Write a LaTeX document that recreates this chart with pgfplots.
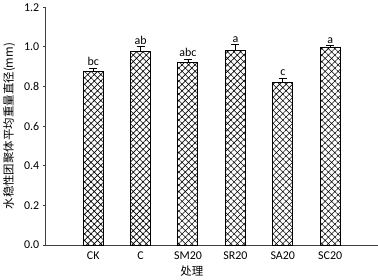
\documentclass[border=0pt]{standalone}
\usepackage{pgfplots}
\pgfplotsset{compat=1.18}
\usetikzlibrary{patterns.meta}
\usepackage{fontspec}
\setmainfont{Carlito}
\newfontfamily\cjk{Noto Sans CJK SC}
\begin{document}
\begin{tikzpicture}
\begin{axis}[
  scale only axis, width=332bp, height=238bp,
  xmin=0, xmax=7, ymin=0, ymax=1.2,
  xtick={1,2,3,4,5,6},
  xticklabels={CK,C,SM20,SR20,SA20,SC20},
  x tick style={draw=none},
  ytick={0,0.2,0.4,0.6,0.8,1.0,1.2},
  yticklabel style={/pgf/number format/.cd,fixed,fixed zerofill,precision=1},
  /pgf/number format/assume math mode=true,
  tick label style={font=\fontsize{12}{14}\selectfont},
  axis x line*=bottom, axis y line*=left,
  axis line style={black!75, line width=0.8pt},
  tick align=outside, major tick length=3bp,
  y tick style={black!75, line width=0.8pt},
  ylabel={\cjk\fontsize{11.5}{13}\selectfont 水稳性团聚体平均重量直径(mm)},
  ylabel style={at={(axis description cs:-0.11,0.5)}, anchor=center},
  xlabel={\cjk\fontsize{11.5}{13}\selectfont 处理},
  xlabel style={at={(axis description cs:0.44,-0.108)}, anchor=center},
  clip=false,
]
\addplot[ybar, bar width=20bp, bar shift=0pt, draw=black, line width=1pt,
  pattern={Hatch[angle=45,distance=4.6bp,line width=0.6pt]}, pattern color=black,
  error bars/.cd, y dir=plus, y explicit,
  error bar style={black, line width=0.8pt}, error mark options={rotate=90, mark size=4bp, line width=0.8pt}]
  coordinates {
  (1,0.874) +- (0,0.020)
  (2,0.975) +- (0,0.027)
  (3,0.923) +- (0,0.016)
  (4,0.983) +- (0,0.030)
  (5,0.822) +- (0,0.020)
  (6,0.995) +- (0,0.012)
};
\addplot[only marks, mark=none, nodes near coords, point meta=explicit symbolic,
  nodes near coords style={font=\fontsize{12}{14}\selectfont, anchor=south, inner sep=2bp}]
  table[meta=lab] {
  x y lab
  1 0.894 bc
  2 1.002 ab
  3 0.939 abc
  4 1.013 a
  5 0.842 c
  6 1.007 a
};
\end{axis}
\end{tikzpicture}
\end{document}
